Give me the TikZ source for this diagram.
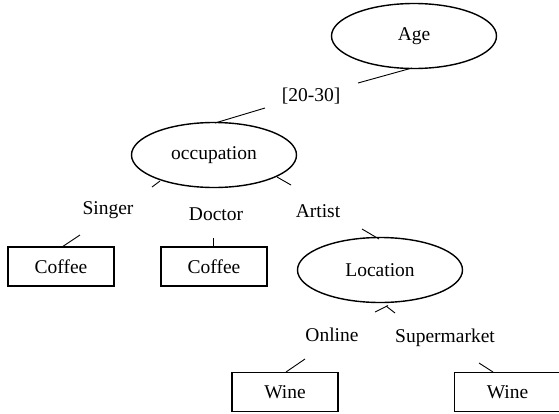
\documentclass[tikz,border=0pt]{standalone}
\usepackage{fontspec}
\setmainfont{Liberation Serif}
\usetikzlibrary{shapes.geometric}
\begin{document}
\begin{tikzpicture}[x=1pt,y=-1pt,
  every node/.style={font=\fontsize{19.5}{23}\selectfont},
  attr/.style={draw, ellipse, line width=1.4pt, minimum width=165pt, minimum height=65pt, inner sep=0pt},
  leaf/.style={draw, rectangle, line width=1.4pt, minimum width=106pt, minimum height=39pt, inner sep=0pt},
  lab/.style={inner sep=1pt},
  edge/.style={line width=0.9pt}]
\useasboundingbox (0,0) rectangle (559,413);
\node[attr] (age) at (414,36) {Age};
\node[attr] (occ) at (214,155) {occupation};
\node[attr] (loc) at (380,270) {Location};
\node[leaf] (c1) at (61,266.5) {Coffee};
\node[leaf] (c2) at (214,266.5) {Coffee};
\node[leaf] (w1) at (285,392) {Wine};
\node[leaf] (w2) at (507.5,392) {Wine};
\node[lab] (l2030) at (311,96) {[20-30]};
\node[lab] (lsing) at (108,210) {Singer};
\node[lab] (ldoc) at (216,214) {Doctor};
\node[lab] (lart) at (318,211) {Artist};
\node[lab] (lonl) at (332,335) {Online};
\node[lab] (lsup) at (445,338) {Supermarket};
% stub end points
\coordinate (a1) at (412,68);  \coordinate (a2) at (358,83);
\coordinate (b1) at (265,108); \coordinate (b2) at (215,123);
\coordinate (s1) at (152,187); \coordinate (s2) at (160,181);
\coordinate (s3) at (80,235);  \coordinate (s4) at (62,247);
\coordinate (d1) at (213,238); \coordinate (d2) at (213,247);
\coordinate (r1) at (277,177); \coordinate (r2) at (291,185);
\coordinate (t1) at (362,229); \coordinate (t2) at (379,239);
\coordinate (o1) at (375,312); \coordinate (o2) at (388,305.5);
\coordinate (p1) at (386,306); \coordinate (p2) at (395,313);
\coordinate (o3) at (305,359); \coordinate (o4) at (286,372);
\coordinate (p3) at (479,363); \coordinate (p4) at (493,372);
\draw[edge] (a1) -- (a2);
\draw[edge] (b1) -- (b2);
\draw[edge] (s1) -- (s2);
\draw[edge] (s3) -- (s4);
\draw[edge] (d1) -- (d2);
\draw[edge] (r1) -- (r2);
\draw[edge] (t1) -- (t2);
\draw[edge] (o1) -- (o2);
\draw[edge] (p1) -- (p2);
\draw[edge] (o3) -- (o4);
\draw[edge] (p3) -- (p4);
\end{tikzpicture}
\end{document}
